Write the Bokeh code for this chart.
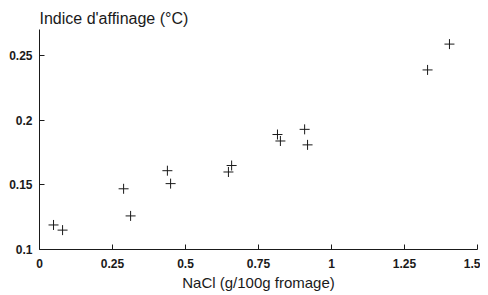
from bokeh.plotting import figure
from bokeh.models import Range1d, FixedTicker
from bokeh.embed import file_html
from bokeh.resources import INLINE

nacl = [0.048, 0.079, 0.288, 0.312, 0.438, 0.449, 0.647, 0.658, 0.815, 0.825, 0.908, 0.918, 1.329, 1.404]
indice = [0.119, 0.115, 0.147, 0.126, 0.161, 0.151, 0.160, 0.165, 0.189, 0.184, 0.193, 0.181, 0.239, 0.259]
x_ticks = [0, 0.25, 0.5, 0.75, 1, 1.25, 1.5]
x_tick_labels = ["0", "0.25", "0.5", "0.75", "1", "1.25", "1.5"]
y_ticks = [0.1, 0.15, 0.2, 0.25]
y_tick_labels = ["0.1", "0.15", "0.2", "0.25"]

FONT = "Liberation Sans"
INK = "#1a1a1a"

p = figure(frame_width=438, frame_height=220, output_backend="svg", toolbar_location=None,
           x_range=Range1d(0, 1.5), y_range=Range1d(0.1, 0.2703),
           min_border_left=39, min_border_right=3, min_border_bottom=20, min_border_top=29)
p.title.text = "Indice d'affinage (°C)"
p.title.align = "left"
p.title.text_font = FONT
p.title.text_font_size = "16px"
p.title.text_font_style = "normal"
p.title.text_color = INK
p.title.offset = 0
p.title.standoff = 6

p.outline_line_color = None
p.xgrid.visible = False
p.ygrid.visible = False

p.scatter(nacl, indice, marker="cross", size=10, line_color=INK, line_width=1)

p.xaxis.ticker = FixedTicker(ticks=x_ticks)
p.xaxis.major_label_overrides = {t: l for t, l in zip(x_ticks, x_tick_labels)}
p.yaxis.ticker = FixedTicker(ticks=y_ticks)
p.yaxis.major_label_overrides = {t: l for t, l in zip(y_ticks, y_tick_labels)}

for ax in (p.xaxis, p.yaxis):
    ax.major_tick_in = 5
    ax.major_tick_out = 0
    ax.minor_tick_line_color = None
    ax.axis_line_color = INK
    ax.major_tick_line_color = INK
    ax.major_label_text_font = FONT
    ax.major_label_text_font_size = "12px"
    ax.major_label_text_font_style = "bold"
    ax.major_label_text_color = INK

p.xaxis.axis_label = "NaCl (g/100g fromage)"
p.xaxis.axis_label_text_font = FONT
p.xaxis.axis_label_text_font_size = "15px"
p.xaxis.axis_label_text_font_style = "normal"
p.xaxis.axis_label_text_color = INK
p.xaxis.major_label_standoff = 9
p.xaxis.axis_label_standoff = 3
p.yaxis.major_label_standoff = 7

open("out.html", "w").write(file_html(p, INLINE))
